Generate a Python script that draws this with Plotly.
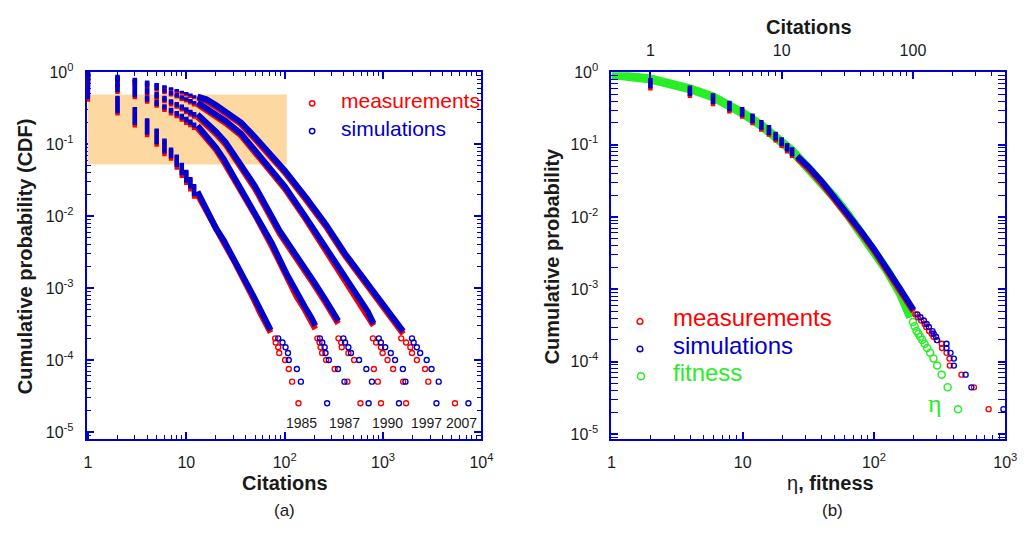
import plotly.graph_objects as go

W, H = 1033, 539
AX = "rgb(0,0,204)"
RED = "rgb(255,0,0)"
BLUE = "rgb(0,0,204)"
GREEN = "rgb(40,238,40)"
FONT = "Liberation Sans, Arial, sans-serif"
TXT = "#1a1a1a"

# ================= panel (a): data =================
YEARS = ["1985", "1987", "1990", "1997", "2007"]
STREAK_K = [1, 2, 3, 4, 5, 6, 7, 8, 9, 10, 11, 12]

SIM_TOP = {
    "1985": [1.0, 0.47, 0.33, 0.23, 0.165, 0.12, 0.09, 0.072, 0.055, 0.044, 0.035, 0.028],
    "1987": [1.0, 0.68, 0.55, 0.47, 0.41, 0.36, 0.32, 0.29, 0.265, 0.24, 0.22, 0.20],
    "1990": [1.0, 0.82, 0.70, 0.60, 0.53, 0.47, 0.42, 0.385, 0.355, 0.325, 0.30, 0.28],
    "1997": [1.0, 0.88, 0.79, 0.71, 0.65, 0.60, 0.555, 0.515, 0.48, 0.45, 0.425, 0.40],
    "2007": [1.0, 0.92, 0.84, 0.77, 0.71, 0.66, 0.62, 0.585, 0.555, 0.53, 0.505, 0.48],
}
SIM_BOT = {
    "1985": [0.42, 0.27, 0.185, 0.135, 0.10, 0.074, 0.064, 0.048, 0.037, 0.029, 0.024, 0.019],
    "1987": [0.62, 0.53, 0.45, 0.39, 0.34, 0.30, 0.27, 0.245, 0.22, 0.20, 0.185, 0.17],
    "1990": [0.76, 0.64, 0.55, 0.49, 0.43, 0.39, 0.355, 0.325, 0.30, 0.275, 0.255, 0.24],
    "1997": [0.84, 0.75, 0.67, 0.61, 0.56, 0.52, 0.48, 0.45, 0.42, 0.40, 0.375, 0.355],
    "2007": [0.88, 0.80, 0.74, 0.69, 0.64, 0.60, 0.565, 0.535, 0.51, 0.485, 0.46, 0.44],
}
MEAS_TOP = {
    "1985": [0.97, 0.45, 0.315, 0.22, 0.158, 0.115, 0.086, 0.069, 0.053, 0.042, 0.033, 0.027],
    "1987": [0.97, 0.655, 0.53, 0.455, 0.395, 0.345, 0.31, 0.28, 0.255, 0.23, 0.21, 0.19],
    "1990": [0.97, 0.79, 0.675, 0.58, 0.51, 0.45, 0.405, 0.37, 0.34, 0.31, 0.29, 0.27],
    "1997": [0.97, 0.85, 0.76, 0.685, 0.625, 0.58, 0.535, 0.495, 0.46, 0.435, 0.41, 0.385],
    "2007": [0.97, 0.89, 0.81, 0.745, 0.69, 0.64, 0.60, 0.565, 0.535, 0.51, 0.49, 0.465],
}
MEAS_BOT = {
    "1985": [0.39, 0.25, 0.17, 0.125, 0.092, 0.068, 0.059, 0.044, 0.034, 0.027, 0.022, 0.0175],
    "1987": [0.58, 0.50, 0.42, 0.365, 0.32, 0.28, 0.25, 0.23, 0.205, 0.185, 0.172, 0.158],
    "1990": [0.72, 0.61, 0.52, 0.465, 0.41, 0.37, 0.335, 0.31, 0.285, 0.26, 0.24, 0.225],
    "1997": [0.80, 0.715, 0.64, 0.58, 0.535, 0.495, 0.46, 0.43, 0.40, 0.38, 0.355, 0.335],
    "2007": [0.85, 0.77, 0.71, 0.66, 0.615, 0.575, 0.54, 0.51, 0.485, 0.46, 0.44, 0.42],
}

BODY_X = {
    "1985": [13, 14, 17, 20, 24, 30, 36, 42, 48, 56, 64, 72],
    "1987": [13, 16, 20, 24, 30, 40, 52, 74, 104, 132, 160, 186, 205],
    "1990": [13, 17, 20, 25, 36, 50, 89, 141, 200, 257, 300, 350],
    "1997": [13, 16, 20, 25, 36, 50, 76, 100, 164, 260, 355, 480, 700, 800],
    "2007": [13, 16, 20, 25, 36, 50, 76, 100, 164, 260, 411, 645, 1000, 1300, 1600],
}
BODY_SIM = {
    "1985": [0.022, 0.018, 0.0105, 0.0068, 0.0046, 0.0027, 0.0017, 0.0011, 0.00078, 0.0005, 0.00034, 0.00026],
    "1987": [0.18, 0.13, 0.09, 0.062, 0.037, 0.019, 0.0102, 0.0042, 0.0016, 0.00085, 0.00055, 0.00039, 0.0003],
    "1990": [0.26, 0.19, 0.15, 0.107, 0.049, 0.026, 0.0062, 0.0025, 0.0012, 0.0007, 0.0005, 0.00035],
    "1997": [0.38, 0.32, 0.26, 0.21, 0.14, 0.082, 0.042, 0.026, 0.0096, 0.0036, 0.0019, 0.0010, 0.00047, 0.00032],
    "2007": [0.46, 0.42, 0.35, 0.285, 0.20, 0.125, 0.065, 0.043, 0.0182, 0.0078, 0.003, 0.0013, 0.0006, 0.00035, 0.00025],
}
BODY_MEAS = {
    "1985": [0.020, 0.0165, 0.0097, 0.0063, 0.0043, 0.0025, 0.0016, 0.00102, 0.00072, 0.00046, 0.00032, 0.00024],
    "1987": [0.168, 0.122, 0.084, 0.057, 0.034, 0.0175, 0.0094, 0.0038, 0.00145, 0.00076, 0.0005, 0.00035, 0.00027],
    "1990": [0.24, 0.178, 0.14, 0.1, 0.046, 0.024, 0.0057, 0.0023, 0.0011, 0.00064, 0.00046, 0.00032],
    "1997": [0.36, 0.30, 0.245, 0.197, 0.132, 0.077, 0.039, 0.0242, 0.009, 0.00335, 0.00175, 0.00092, 0.00043, 0.0003],
    "2007": [0.44, 0.40, 0.33, 0.27, 0.19, 0.117, 0.061, 0.0405, 0.017, 0.0073, 0.0028, 0.0012, 0.00056, 0.00033, 0.00023],
}

TAIL_Y = [2.5e-5, 5e-5, 7.5e-5, 1e-4, 1.25e-4, 1.5e-4, 1.75e-4, 2e-4]
TAIL_MEAS_X = {
    "1985": [138, 119, 110, 101, 88, 86, 81, 80],
    "1987": [589, 434, 322, 264, 240, 232, 226, 215],
    "1990": [952, 883, 806, 508, 444, 380, 375, 352],
    "1997": [1713, 1600, 1264, 1109, 989, 952, 850, 788],
    "2007": [5383, 2880, 2670, 2205, 1967, 1892, 1713, 1529],
}
TAIL_SIM_X = {
    "1985": [270, 146, 133, 110, 108, 102, 95, 86],
    "1987": [713, 405, 348, 281, 260, 255, 241, 228],
    "1990": [1450, 770, 676, 570, 472, 444, 411, 395],
    "1997": [3486, 1688, 1589, 1324, 1197, 1051, 950, 904],
    "2007": [7365, 3675, 3107, 2775, 2383, 2205, 2043, 1967],
}
HIGHLIGHT_X = [1, 105]
HIGHLIGHT_Y = [0.052, 0.49]

# ================= panel (b): data =================
B_CIT = [1, 2, 3, 4, 5, 6, 7, 8, 9, 10, 11, 12]
B_SIM_TOP = [0.83, 0.656, 0.513, 0.404, 0.331, 0.269, 0.219, 0.186, 0.151, 0.126, 0.105, 0.092]
B_SIM_BOT = [0.60, 0.47, 0.363, 0.288, 0.243, 0.197, 0.160, 0.136, 0.1135, 0.0955, 0.080, 0.069]
B_MEAS_TOP = [0.79, 0.62, 0.49, 0.385, 0.315, 0.256, 0.208, 0.177, 0.144, 0.12, 0.10, 0.088]
B_MEAS_BOT = [0.56, 0.44, 0.34, 0.27, 0.228, 0.185, 0.150, 0.128, 0.107, 0.09, 0.075, 0.065]

B_BODY_X = [26, 32, 40, 50, 63, 79, 100, 126, 158, 200]
B_BODY_SIM = [0.069, 0.0485, 0.031, 0.019, 0.0114, 0.0065, 0.0036, 0.00195, 0.00102, 0.00052]
B_BODY_MEAS = [0.065, 0.0455, 0.029, 0.0178, 0.0107, 0.0061, 0.0034, 0.00182, 0.00096, 0.00049]

B_TAIL_Y = [2.2e-5, 4.4e-5, 6.6e-5, 8.8e-5, 1.1e-4, 1.32e-4, 1.54e-4, 1.76e-4, 1.98e-4,
            2.2e-4, 2.42e-4, 2.64e-4, 3.0e-4, 3.3e-4, 3.7e-4, 4.1e-4, 4.5e-4]
B_TAIL_MEAS_X = [747, 578, 464, 378, 376, 357, 330, 328, 301, 284, 275, 263, 250, 243, 229, 216, 207]
B_TAIL_SIM_X = [968, 552, 499, 406, 406, 383, 357, 357, 303, 297, 285, 279, 262, 252, 240, 226, 214]

FIT_X = [1, 1.5, 1.98, 3, 3.96, 5.93, 7.9, 10, 14.1, 17.7, 23.6, 30, 40, 50, 63, 79, 100, 126, 158, 190]
FIT_Y = [0.93, 0.855, 0.805, 0.668, 0.59, 0.457, 0.355, 0.272, 0.18, 0.13, 0.083, 0.052, 0.030,
         0.0185, 0.0108, 0.0062, 0.0034, 0.0018, 0.00089, 0.00041]
FIT_TAIL_X = [437, 364, 328, 303, 284, 268, 254, 243, 233, 225, 218, 211, 204, 198]
FIT_TAIL_Y = [2.2e-5, 4.4e-5, 6.6e-5, 8.8e-5, 1.1e-4, 1.32e-4, 1.54e-4, 1.76e-4, 1.98e-4,
              2.2e-4, 2.42e-4, 2.64e-4, 3.08e-4, 3.52e-4]


def streak_xy(xs_, tops, bots):
    xs, ys = [], []
    for x, t, b in zip(xs_, tops, bots):
        xs += [x, x, None]
        ys += [t, b, None]
    return xs, ys


fig = go.Figure()

# highlight box (panel a)
fig.add_trace(go.Scatter(
    x=[HIGHLIGHT_X[0], HIGHLIGHT_X[1], HIGHLIGHT_X[1], HIGHLIGHT_X[0], HIGHLIGHT_X[0]],
    y=[HIGHLIGHT_Y[0], HIGHLIGHT_Y[0], HIGHLIGHT_Y[1], HIGHLIGHT_Y[1], HIGHLIGHT_Y[0]],
    fill="toself", fillcolor="rgb(253,216,160)", mode="lines", line=dict(width=0),
    hoverinfo="skip", showlegend=False, xaxis="x", yaxis="y"))

for color, TOP, BOT, BX, BY, TX in [
    (RED, MEAS_TOP, MEAS_BOT, BODY_X, BODY_MEAS, TAIL_MEAS_X),
    (BLUE, SIM_TOP, SIM_BOT, BODY_X, BODY_SIM, TAIL_SIM_X),
]:
    for yr in YEARS:
        sx, sy = streak_xy(STREAK_K, TOP[yr], BOT[yr])
        fig.add_trace(go.Scatter(x=sx, y=sy, mode="lines", line=dict(color=color, width=4.5),
                                 showlegend=False, xaxis="x", yaxis="y"))
        fig.add_trace(go.Scatter(x=BX[yr], y=BY[yr], mode="lines", line=dict(color=color, width=6),
                                 showlegend=False, xaxis="x", yaxis="y"))
        fig.add_trace(go.Scatter(x=TX[yr], y=TAIL_Y, mode="markers",
                                 marker=dict(symbol="circle-open", size=5, color=color,
                                             line=dict(width=1.4, color=color)),
                                 showlegend=False, xaxis="x", yaxis="y"))

# panel (b): fitness
fig.add_trace(go.Scatter(x=FIT_X, y=FIT_Y, mode="lines", line=dict(color=GREEN, width=9),
                         showlegend=False, xaxis="x2", yaxis="y2"))
fig.add_trace(go.Scatter(x=FIT_TAIL_X, y=FIT_TAIL_Y, mode="markers",
                         marker=dict(symbol="circle-open", size=7, color=GREEN,
                                     line=dict(width=1.5, color=GREEN)),
                         showlegend=False, xaxis="x2", yaxis="y2"))

for color, tops, bots, body, tail in [
    (RED, B_MEAS_TOP, B_MEAS_BOT, B_BODY_MEAS, B_TAIL_MEAS_X),
    (BLUE, B_SIM_TOP, B_SIM_BOT, B_BODY_SIM, B_TAIL_SIM_X),
]:
    sx, sy = streak_xy(B_CIT, tops, bots)
    fig.add_trace(go.Scatter(x=sx, y=sy, mode="lines", line=dict(color=color, width=4.5),
                             showlegend=False, xaxis="x3", yaxis="y2"))
    fig.add_trace(go.Scatter(x=B_BODY_X, y=body, mode="lines", line=dict(color=color, width=6),
                             showlegend=False, xaxis="x2", yaxis="y2"))
    fig.add_trace(go.Scatter(x=tail, y=B_TAIL_Y, mode="markers",
                             marker=dict(symbol="circle-open", size=5, color=color,
                                         line=dict(width=1.4, color=color)),
                             showlegend=False, xaxis="x2", yaxis="y2"))


def minors(lo, hi, upto=None):
    out = []
    for e in range(lo, hi):
        for m in range(2, 10):
            v = m * 10 ** e
            if upto is None or v <= upto:
                out.append(v)
    return out


def sup(e):
    return "10<sup>%d</sup>" % e


tickfont = dict(family=FONT, size=16, color=TXT)
common = dict(type="log", showline=True, linecolor=AX, linewidth=2, ticks="inside",
              ticklen=7, tickwidth=1.5, tickcolor=AX, showgrid=False, zeroline=False,
              tickfont=tickfont, tickmode="array")

def minor_cfg(vals):
    return dict(ticks="inside", ticklen=4, tickwidth=1.3, tickcolor=AX,
                tickmode="array", tickvals=vals, showgrid=False)

DOM_Y = [1 - 440 / H, 1 - 63 / H]

fig.update_layout(
    width=W, height=H, margin=dict(l=0, r=0, t=0, b=0),
    paper_bgcolor="white", plot_bgcolor="white", showlegend=False,
    xaxis=dict(**common, domain=[84 / W, 485 / W], anchor="y", range=[-0.012, 4], mirror="allticks",
               tickvals=[1, 10, 100, 1000, 10000], ticktext=["1", "10", sup(2), sup(3), sup(4)],
               minor=minor_cfg(minors(0, 4)), ticklabelstandoff=8),
    yaxis=dict(**common, domain=DOM_Y, anchor="x", range=[-5.095, 0], mirror="allticks",
               tickvals=[1, 0.1, 0.01, 1e-3, 1e-4, 1e-5],
               ticktext=[sup(0), sup(-1), sup(-2), sup(-3), sup(-4), sup(-5)],
               minor=minor_cfg(minors(-6, 0)), ticklabelstandoff=8, layer="below traces"),
    xaxis2=dict(**common, domain=[617 / W, 1017 / W], anchor="y2", range=[0, 3], mirror=False,
                tickvals=[1, 10, 100, 1000], ticktext=["1", "10", sup(2), sup(3)],
                minor=minor_cfg(minors(0, 3)), ticklabelstandoff=8),
    yaxis2=dict(**common, domain=DOM_Y, anchor="x2", range=[-5.067, 0], mirror="allticks",
                tickvals=[1, 0.1, 0.01, 1e-3, 1e-4, 1e-5],
                ticktext=[sup(0), sup(-1), sup(-2), sup(-3), sup(-4), sup(-5)],
                minor=minor_cfg(minors(-6, 0)), ticklabelstandoff=8),
    xaxis3=dict(**common, overlaying="x2", anchor="y2", side="top", range=[-0.2967, 2.7033],
                tickvals=[1, 10, 100], ticktext=["1", "10", "100"],
                minor=minor_cfg(minors(0, 3, upto=505)), ticklabelstandoff=8),
)

ann = []
def A(text, x, y, size=16, color=TXT, angle=0, xanchor="center", family=FONT):
    ann.append(dict(text=text, x=x / W, y=1 - y / H, xref="paper", yref="paper",
                    showarrow=False, textangle=angle, xanchor=xanchor, yanchor="middle",
                    font=dict(family=family, size=size, color=color)))

A("<b>Cumulative probability (CDF)</b>", 21.5, 252, size=20, angle=-90)
A("<b>Citations</b>", 285, 485, size=20)
A("(a)", 285, 514, size=17)
A("<b>Cumulative probability</b>", 557, 252, size=20, angle=-90)
A("η<b>, fitness</b>", 840, 485, size=20)
A("(b)", 842, 514, size=17)
A("<b>Citations</b>", 818, 16, size=20)
for yr, xc in zip(YEARS, [302, 346, 390, 429, 465]):
    A(yr, xc, 424, size=14)
A("measurements", 340, 92, size=21, color=RED, xanchor="left")
A("simulations", 340, 120.5, size=21, color=BLUE, xanchor="left")
A("measurements", 678, 315.5, size=24, color=RED, xanchor="left")
A("simulations", 678, 344, size=24, color=BLUE, xanchor="left")
A("fitness", 678, 372, size=24, color=GREEN, xanchor="left")
A("η", 946, 404, size=26, color=GREEN, family="Liberation Serif, serif")

shapes = []
def circ(cx, cy, r, color):
    shapes.append(dict(type="circle", xref="paper", yref="paper",
                       x0=(cx - r) / W, x1=(cx + r) / W, y0=1 - (cy + r) / H, y1=1 - (cy - r) / H,
                       line=dict(color=color, width=1.5)))

circ(313, 95, 2.7, RED)
circ(313, 123.5, 2.7, BLUE)
circ(646, 319.3, 2.9, RED)
circ(646, 347.7, 2.9, BLUE)
circ(647, 375.7, 3.6, GREEN)

fig.update_layout(annotations=ann, shapes=shapes)
fig.write_html("out.html")
